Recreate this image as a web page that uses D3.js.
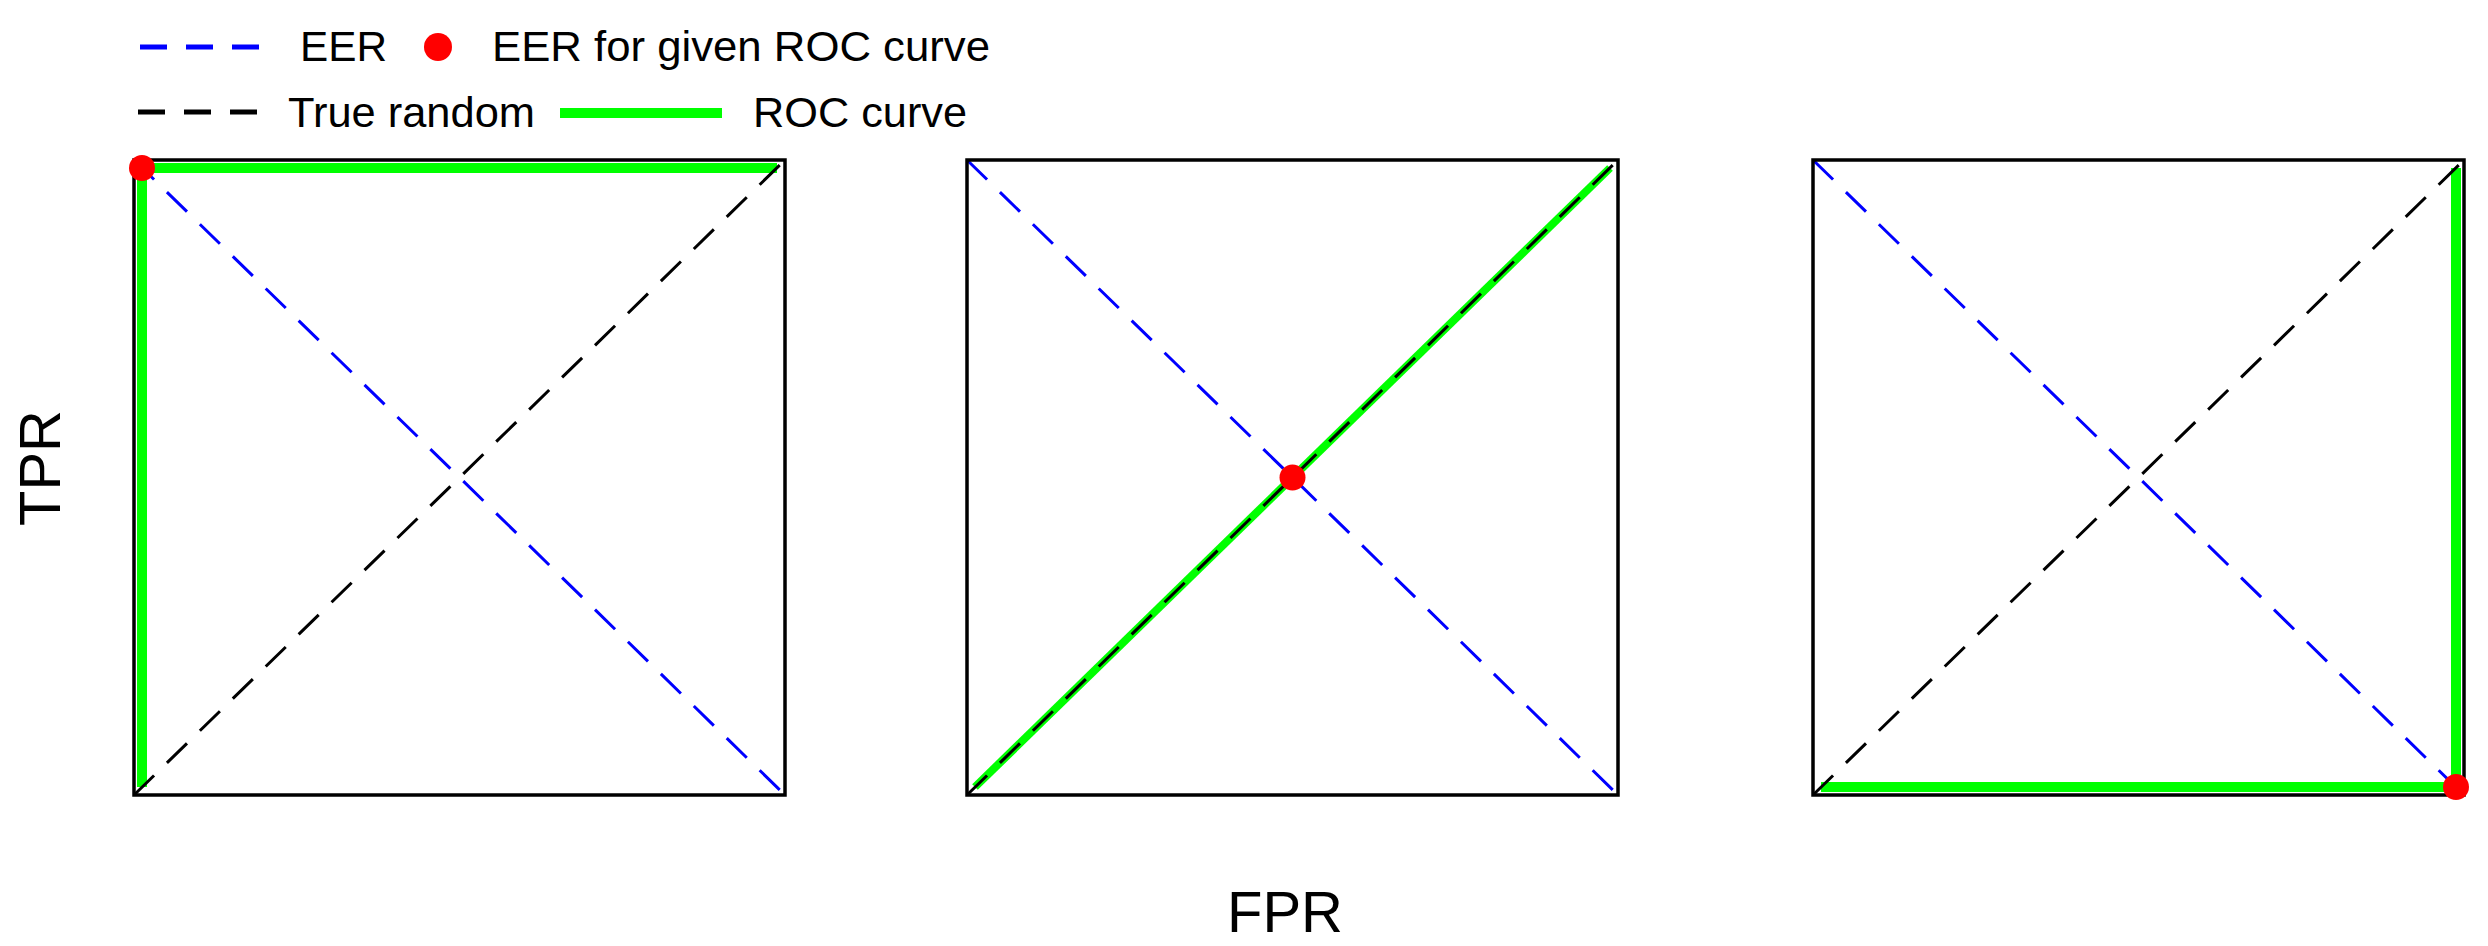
<!DOCTYPE html>
<html>
<head>
<meta charset="utf-8">
<script src="https://cdn.jsdelivr.net/npm/d3@7"></script>
<style>
  html, body { margin: 0; padding: 0; background: #fff; }
  svg { display: block; }
  text { font-family: "Liberation Sans", Arial, sans-serif; fill: #000; }
</style>
</head>
<body>
<svg id="chart" width="2488" height="946"></svg>
<script>
// ---- data ----
const panels = ["perfect", "random", "inverse"];
const rocX = [[0, 0, 1], [0, 1], [0, 1, 1]];
const rocY = [[0, 1, 1], [0, 1], [0, 0, 1]];
const eerX = [0, 0.5, 1];
const eerY = [1, 0.5, 0];
const eerLineX = [0, 1];
const eerLineY = [1, 0];
const randomLineX = [0, 1];
const randomLineY = [0, 1];
const legendLabels = ["EER", "EER for given ROC curve", "True random", "ROC curve"];
const xLabel = "FPR";
const yLabel = "TPR";

// ---- layout ----
const svg = d3.select("#chart");
const panelLeft = [134, 967, 1813];
const panelW = 651;
const plotTop = 160, plotBottom = 795;
const inset = 8;

const line = d3.line();

panels.forEach((p, i) => {
  const x = d3.scaleLinear().domain([0, 1]).range([panelLeft[i], panelLeft[i] + panelW]);
  const y = d3.scaleLinear().domain([0, 1]).range([plotBottom, plotTop]);
  const xr = d3.scaleLinear().domain([0, 1]).range([panelLeft[i] + inset, panelLeft[i] + panelW - inset]);
  const yr = d3.scaleLinear().domain([0, 1]).range([plotBottom - inset, plotTop + inset]);
  const g = svg.append("g").attr("class", "panel-" + p);

  // ROC curve
  const roc = rocX[i].map((v, k) => [xr(v), yr(rocY[i][k])]);
  g.append("path").attr("d", line(roc))
    .attr("fill", "none").attr("stroke", "#00ff00")
    .attr("stroke-width", i === 1 ? 8 : 10)
    .attr("stroke-linejoin", "miter");

  // True random diagonal
  g.append("path").attr("d", line(randomLineX.map((v, k) => [x(v), y(randomLineY[k])])))
    .attr("fill", "none").attr("stroke", "#000")
    .attr("stroke-width", 3).attr("stroke-dasharray", "28,18");

  // EER diagonal
  g.append("path").attr("d", line(eerLineX.map((v, k) => [x(v), y(eerLineY[k])])))
    .attr("fill", "none").attr("stroke", "#0000ff")
    .attr("stroke-width", 3).attr("stroke-dasharray", "28,18");

  // frame
  g.append("rect")
    .attr("x", x(0)).attr("y", y(1))
    .attr("width", x(1) - x(0)).attr("height", y(0) - y(1))
    .attr("fill", "none").attr("stroke", "#000").attr("stroke-width", 3.5);

  // EER point
  g.append("circle")
    .attr("cx", xr(eerX[i])).attr("cy", yr(eerY[i])).attr("r", 13)
    .attr("fill", "#ff0000");
});

// ---- legend ----
const leg = svg.append("g").attr("class", "legend");
leg.append("line").attr("x1", 140).attr("x2", 260).attr("y1", 47).attr("y2", 47)
  .attr("stroke", "#0000ff").attr("stroke-width", 5).attr("stroke-dasharray", "27,19");
leg.append("text").attr("x", 300).attr("y", 61).attr("font-size", 43)
  .attr("textLength", 87).attr("lengthAdjust", "spacingAndGlyphs").text(legendLabels[0]);
leg.append("circle").attr("cx", 438).attr("cy", 47).attr("r", 14)
  .attr("fill", "#ff0000");
leg.append("text").attr("x", 492).attr("y", 61).attr("font-size", 43)
  .attr("textLength", 498).attr("lengthAdjust", "spacingAndGlyphs").text(legendLabels[1]);

leg.append("line").attr("x1", 138).attr("x2", 257).attr("y1", 112).attr("y2", 112)
  .attr("stroke", "#000").attr("stroke-width", 5).attr("stroke-dasharray", "27,19");
leg.append("text").attr("x", 288).attr("y", 127).attr("font-size", 43)
  .attr("textLength", 247).attr("lengthAdjust", "spacingAndGlyphs").text(legendLabels[2]);
leg.append("line").attr("x1", 560).attr("x2", 722).attr("y1", 113).attr("y2", 113)
  .attr("stroke", "#00ff00").attr("stroke-width", 10);
leg.append("text").attr("x", 753).attr("y", 127).attr("font-size", 43)
  .attr("textLength", 214).attr("lengthAdjust", "spacingAndGlyphs").text(legendLabels[3]);

// ---- axis labels ----
svg.append("text").attr("x", 1285).attr("y", 932).attr("font-size", 58)
  .attr("text-anchor", "middle").text(xLabel);
svg.append("text").attr("transform", "translate(60,468) rotate(-90)")
  .attr("font-size", 58).attr("text-anchor", "middle").text(yLabel);
</script>
</body>
</html>
